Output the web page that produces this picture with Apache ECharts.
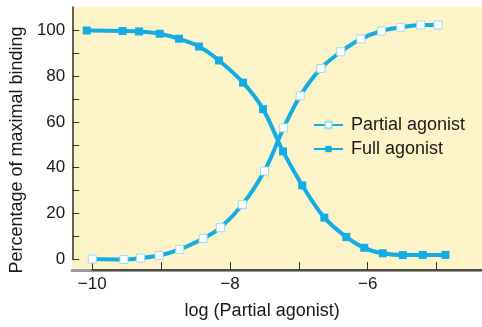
<!DOCTYPE html>
<html>
<head>
<meta charset="utf-8">
<script src="https://cdn.jsdelivr.net/npm/echarts@6/dist/echarts.min.js"></script>
<style>
  html, body { margin: 0; padding: 0; background: #ffffff; }
  #chart { width: 482px; height: 327px; }
</style>
</head>
<body>
<div id="chart"></div>
<script>
// Binding curves: percentage of maximal binding vs log concentration
const partialX = [-10.0, -9.54, -9.30, -9.03, -8.73, -8.39, -8.14, -7.82, -7.50, -7.22, -6.98, -6.68, -6.39, -6.10, -5.80, -5.52, -5.23, -4.98];
const partialY = [0, -0.2, 0.4, 1.5, 4.2, 9.0, 13.7, 23.8, 38.5, 57.4, 71.4, 83.4, 90.7, 96.3, 99.8, 101.4, 102.4, 102.4];
const fullX = [-10.08, -9.56, -9.32, -9.02, -8.74, -8.45, -8.16, -7.81, -7.52, -7.23, -6.95, -6.63, -6.31, -6.05, -5.78, -5.49, -5.20, -4.87];
const fullY = [100, 99.8, 99.6, 98.6, 96.4, 93.0, 86.9, 77.2, 65.6, 47.1, 32.2, 18.1, 9.6, 4.9, 2.5, 1.7, 1.8, 1.8];

const seriesNames = ['Partial agonist', 'Full agonist'];
const xTickValues = [-10, -9, -8, -7, -6, -5];
const xLabelValues = [-10, -8, -6];
const yTickValues = [0, 10, 20, 30, 40, 50, 60, 70, 80, 90, 100];
const yLabelValues = [0, 20, 40, 60, 80, 100];

const xTitle = 'log (Partial agonist)';
const yTitle = 'Percentage of maximal binding';

const LINE_COLOR = '#14ace4';
const AXIS_COLOR = '#35322a';
const FONT = 'Liberation Sans, Arial, Helvetica, sans-serif';

const pairs = (xs, ys) => xs.map((x, i) => [x, ys[i]]);
const minusFmt = v => (v < 0 ? '\u2212' + Math.abs(v) : String(v));

const chart = echarts.init(document.getElementById('chart'), null, { renderer: 'canvas' });

chart.setOption({
  animation: false,
  backgroundColor: '#ffffff',
  textStyle: { fontFamily: FONT },
  grid: [
    // shaded panel behind the plot
    { left: 72, top: 7, right: 0, bottom: 57, show: true, backgroundColor: '#fcf4c8', borderWidth: 0 },
    // data area
    { left: 92, top: 7, right: 0, bottom: 68 }
  ],
  xAxis: [
    {
      gridIndex: 0, type: 'value', position: 'top', min: 0, max: 1,
      axisLine: { show: true, lineStyle: { color: '#9b9b9b', width: 3 } },
      axisTick: { show: false }, axisLabel: { show: false }, splitLine: { show: false }
    },
    {
      gridIndex: 1, type: 'value', min: -10, max: -4.34, offset: 11,
      name: xTitle, nameLocation: 'middle', nameGap: 32,
      nameTextStyle: { fontSize: 18, color: '#1a1a1a', fontFamily: FONT, padding: [0, 50, 0, 0] },
      axisLine: { show: true, onZero: false, lineStyle: { color: AXIS_COLOR, width: 1.5 } },
      axisTick: { show: true, inside: true, length: 8, customValues: xTickValues, lineStyle: { color: AXIS_COLOR, width: 1 } },
      axisLabel: { customValues: xLabelValues, formatter: minusFmt, fontSize: 17, color: '#1a1a1a', margin: 6, fontFamily: FONT },
      splitLine: { show: false }
    }
  ],
  yAxis: [
    { gridIndex: 0, type: 'value', show: false },
    {
      gridIndex: 1, type: 'value', min: 0, max: 110.3, offset: 20,
      name: yTitle, nameLocation: 'middle', nameGap: 45, nameRotate: 90,
      nameTextStyle: { fontSize: 18, color: '#1a1a1a', fontFamily: FONT, padding: [0, 34, 0, 0] },
      axisLine: { show: true, onZero: false, lineStyle: { color: AXIS_COLOR, width: 1.5 } },
      axisTick: { show: true, inside: true, length: 7, customValues: yTickValues, lineStyle: { color: AXIS_COLOR, width: 1 } },
      axisLabel: { customValues: yLabelValues, fontSize: 17, color: '#1a1a1a', margin: 7, fontFamily: FONT },
      splitLine: { show: false }
    }
  ],
  legend: {
    orient: 'vertical', left: 308, top: 111,
    itemWidth: 29, itemHeight: 8, itemGap: 6,
    data: seriesNames,
    textStyle: { fontSize: 18, color: '#1a1a1a', fontFamily: FONT, padding: [0, 0, 0, 3] }
  },
  series: [
    {
      name: seriesNames[0], type: 'line', xAxisIndex: 1, yAxisIndex: 1,
      data: pairs(partialX, partialY), smooth: 0.35, clip: false,
      symbol: 'rect', symbolSize: 8, showAllSymbol: true,
      lineStyle: { color: LINE_COLOR, width: 4 },
      itemStyle: { color: '#ffffff', borderColor: '#9fdcf2', borderWidth: 1 },
      z: 3
    },
    {
      name: seriesNames[1], type: 'line', xAxisIndex: 1, yAxisIndex: 1,
      data: pairs(fullX, fullY), smooth: 0.35, clip: false,
      symbol: 'rect', symbolSize: 8, showAllSymbol: true,
      lineStyle: { color: LINE_COLOR, width: 4 },
      itemStyle: { color: LINE_COLOR },
      z: 2
    }
  ]
});
</script>
</body>
</html>
